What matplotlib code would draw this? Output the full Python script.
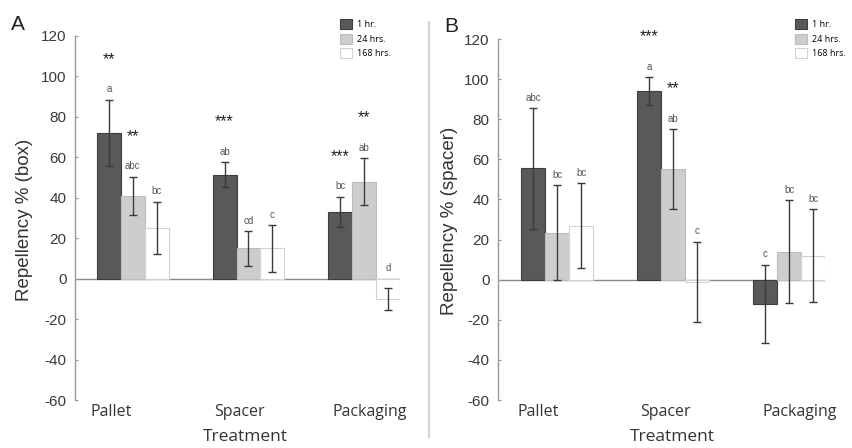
import matplotlib
matplotlib.use("Agg")
import matplotlib.pyplot as plt
import numpy as np
from matplotlib.patches import Patch
from matplotlib.lines import Line2D

# ---------------- data ----------------
categories = ["Pallet", "Spacer", "Packaging"]
series_names = ["1 hr.", "24 hrs.", "168 hrs."]

# Panel A: Repellency % (box)
a_1hr = [72, 51.5, 33]
a_1hr_err = [16.5, 6, 7.5]
a_24hr = [41, 15, 48]
a_24hr_err = [9.5, 8.5, 11.5]
a_168hr = [25, 15, -10]
a_168hr_err = [13, 11.5, 5.5]
a_letters_1hr = ["a", "ab", "bc"]
a_letters_24hr = ["abc", "cd", "ab"]
a_letters_168hr = ["bc", "c", "d"]
a_stars_1hr = ["**", "***", "***"]
a_stars_24hr = ["**", "", "**"]
a_stars_168hr = ["", "", ""]

# Panel B: Repellency % (spacer)
b_1hr = [55.5, 94, -12]
b_1hr_err = [30, 7, 19.5]
b_24hr = [23.5, 55, 14]
b_24hr_err = [23.5, 20, 25.5]
b_168hr = [27, -1, 12]
b_168hr_err = [21, 20, 23]
b_letters_1hr = ["abc", "a", "c"]
b_letters_24hr = ["bc", "ab", "bc"]
b_letters_168hr = ["bc", "c", "bc"]
b_stars_1hr = ["", "***", ""]
b_stars_24hr = ["", "**", ""]
b_stars_168hr = ["", "", ""]

yticks = [-60, -40, -20, 0, 20, 40, 60, 80, 100, 120]

# ---------------- style ----------------
W, H = 853, 448
fig = plt.figure(figsize=(W / 100, H / 100), dpi=100)
face = ["#595959", "#cdcdcd", "#ffffff"]
edge = ["#3d3d3d", "#bcbcbc", "#d2d2d2"]
bw = 0.207
tick_font = "Liberation Sans"
cat_font = "Open Sans"


def panel(rect, xlim, vals, errs, letters, stars, ylabel, cat_pos, xl_coords, yl_coords,
          leg_anchor, panel_letter, pl_pos):
    ax = fig.add_axes(rect)
    x = np.arange(len(categories))
    for i in range(3):
        pos = x + (i - 1) * bw
        ax.bar(pos, vals[i], width=bw, color=face[i], edgecolor=edge[i], linewidth=0.8,
               zorder=2, label=series_names[i])
        ax.errorbar(pos, vals[i], yerr=errs[i], fmt="none", ecolor="#3a3a3a",
                    elinewidth=1.0, capsize=3, capthick=1.0, zorder=3)
        for j in range(len(categories)):
            top = max(vals[i][j] + errs[i][j], 0)
            if letters[i][j]:
                ax.annotate(letters[i][j], (pos[j], top), xytext=(0, 7.5),
                            textcoords="offset points", ha="center", va="center",
                            fontsize=7, color="#555555", family=tick_font)
            if stars[i][j]:
                ax.annotate(stars[i][j], (pos[j], top), xytext=(0, 29),
                            textcoords="offset points", ha="center", va="center",
                            fontsize=11.5, color="#222222", family=tick_font)
    ax.axhline(0, color="#8a8a8a", lw=1.0, zorder=1)
    ax.set_xlim(*xlim)
    ax.set_ylim(-60, 120)
    ax.set_yticks(yticks)
    ax.set_yticklabels([str(t) for t in yticks], family=tick_font, fontsize=11,
                       color="#3a3a3a")
    ax.tick_params(axis="y", direction="in", length=2, width=0.8, color="#999999", pad=6)
    ax.set_xticks(cat_pos)
    ax.set_xticklabels(categories, family=cat_font, fontsize=11.5, color="#333333")
    ax.tick_params(axis="x", length=0, pad=3)
    for s in ["top", "right", "bottom"]:
        ax.spines[s].set_visible(False)
    ax.spines["left"].set_color("#9a9a9a")
    ax.spines["left"].set_linewidth(1.0)
    ax.set_ylabel(ylabel, family=tick_font, fontsize=13.5, color="#333333", va="center")
    ax.yaxis.set_label_coords(*yl_coords)
    ax.set_xlabel("Treatment", family=cat_font, fontsize=12.5, color="#333333", va="center")
    ax.xaxis.set_label_coords(*xl_coords)
    handles = [Patch(facecolor=face[i], edgecolor=edge[i], linewidth=0.8) for i in range(3)]
    ax.legend(handles, series_names, loc="upper left", bbox_to_anchor=leg_anchor,
              bbox_transform=fig.transFigure, frameon=False,
              handlelength=1.35, handleheight=1.35, labelspacing=0.5,
              borderpad=0, borderaxespad=0, handletextpad=0.55,
              prop={"family": cat_font, "size": 6.5})
    fig.text(pl_pos[0] / W, 1 - pl_pos[1] / H, panel_letter, family=tick_font,
             fontsize=15, color="#222222", ha="left", va="center")
    return ax


# Panel A
panel([75 / W, 1 - 400 / H, 325 / W, 364 / H], (-0.5, 2.31),
      [a_1hr, a_24hr, a_168hr], [a_1hr_err, a_24hr_err, a_168hr_err],
      [a_letters_1hr, a_letters_24hr, a_letters_168hr],
      [a_stars_1hr, a_stars_24hr, a_stars_168hr],
      "Repellency % (box)", [-0.19, 0.92, 2.05], (0.523, -0.101), (-0.154, 0.495),
      (340 / W, 1 - 19 / H), "A", (11, 25))

# Panel B
panel([498 / W, 1 - 400 / H, 327 / W, 361 / H], (-0.51, 2.31),
      [b_1hr, b_24hr, b_168hr], [b_1hr_err, b_24hr_err, b_168hr_err],
      [b_letters_1hr, b_letters_24hr, b_letters_168hr],
      [b_stars_1hr, b_stars_24hr, b_stars_168hr],
      "Repellency % (spacer)", [-0.16, 0.93, 2.09], (0.532, -0.102), (-0.147, 0.496),
      (795 / W, 1 - 19 / H), "B", (444, 26))

# separator between panels
fig.add_artist(Line2D([429 / W, 429 / W], [1 - 22 / H, 1 - 437 / H],
                      transform=fig.transFigure, color="#d4d4d4", lw=1.5))

fig.savefig("out.png", dpi=100)
